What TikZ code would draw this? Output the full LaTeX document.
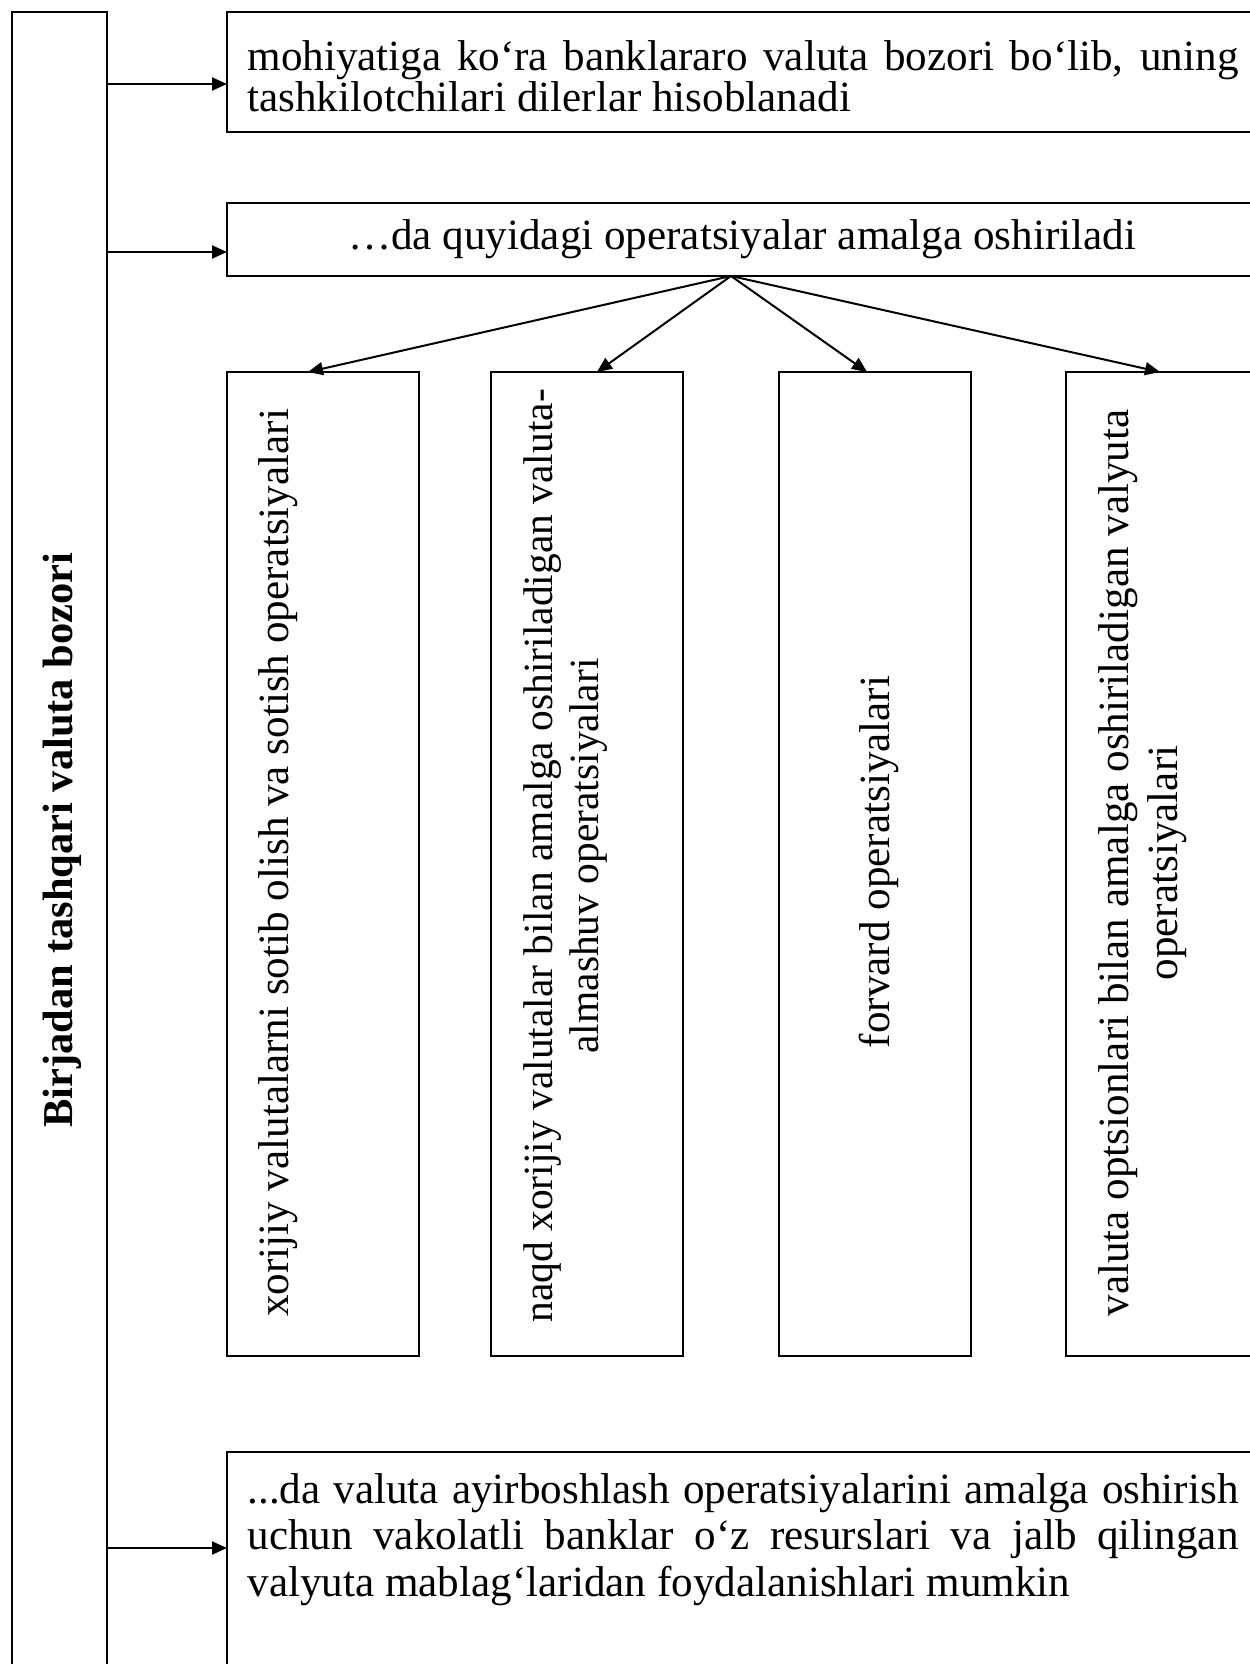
\documentclass[tikz,border=0pt]{standalone}
\usepackage{fontspec}
\setmainfont{Liberation Serif}
\usetikzlibrary{arrows.meta}
\newcommand\normsp{\spaceskip=0pt\xspaceskip=0pt\relax}
\begin{document}
\begin{tikzpicture}[x=0.4pt,y=-0.4pt,
  box/.style={draw, line width=0.8pt, inner sep=0pt, outer sep=0pt, rectangle, anchor=north west},
  arr/.style={line width=0.8pt, -{Triangle[length=6pt,width=5.2pt]}},
  txt/.style={inner sep=0pt, font=\fontsize{17.25pt}{16.4pt}\selectfont}]
\useasboundingbox (0,0) rectangle (1250,1664);
\clip (0,0) rectangle (1250,1664);
% boxes
\node[box, minimum width=38pt, minimum height=667.2pt] (L) at (12,12) {};
\node[box, minimum width=412.4pt, minimum height=48pt] (top) at (227,12) {};
\node[box, minimum width=412.4pt, minimum height=29.2pt] (mid) at (227,203) {};
\node[box, minimum width=76.8pt, minimum height=393.6pt] (v1) at (227,372) {};
\node[box, minimum width=76.8pt, minimum height=393.6pt] (v2) at (491,372) {};
\node[box, minimum width=76.8pt, minimum height=393.6pt] (v3) at (779,372) {};
\node[box, minimum width=76.8pt, minimum height=393.6pt] (v4) at (1066,372) {};
\node[box, minimum width=412.4pt, minimum height=120pt] (bot) at (227,1452) {};
% texts
\node[txt, rotate=90, anchor=base, font=\fontsize{17pt}{18pt}\selectfont\bfseries] (tl) at (72,840) {Birjadan tashqari valuta bozori};
\node[txt, anchor=base west, text width=396.4pt, align=left] (ttop) at (247,71)
  {\normsp\makebox[396.4pt][s]{mohiyatiga ko‘ra banklararo valuta bozori bo‘lib, uning}\\tashkilotchilari dilerlar hisoblanadi};
\node[txt] (tmid) at (742,239.5) {…da quyidagi operatsiyalar amalga oshiriladi};
\node[txt, rotate=90, anchor=base] (t1) at (288,863) {xorijiy valutalarni sotib olish va sotish operatsiyalari};
\node[txt, rotate=90, anchor=base, align=center, font=\fontsize{16.6pt}{18.6pt}\selectfont] (t2) at (598.5,856)
  {\normsp naqd xorijiy valutalar bilan amalga oshiriladigan valuta-\\\normsp almashuv operatsiyalari};
\node[txt, rotate=90] (t3) at (879,862) {forvard operatsiyalari};
\node[txt, rotate=90, anchor=base, align=center, font=\fontsize{17.25pt}{19.6pt}\selectfont] (t4) at (1177,863)
  {\normsp valuta optsionlari bilan amalga oshiriladigan valyuta\\\normsp operatsiyalari};
\node[txt, anchor=base west, text width=396.4pt, align=left, font=\fontsize{17.25pt}{18.6pt}\selectfont] (tbot) at (247,1503)
  {\normsp\makebox[396.4pt][s]{...da valuta ayirboshlash operatsiyalarini amalga oshirish}\\\makebox[396.4pt][s]{uchun vakolatli banklar o‘z resurslari va jalb qilingan}\\valyuta mablag‘laridan foydalanishlari mumkin};
% connectors
\coordinate (a1) at ([yshift=-4.8pt]top.west);
\coordinate (a2) at ([yshift=-5pt]mid.west);
\coordinate (a3) at ([yshift=-38.4pt]bot.north west);
\draw[arr] (L.east |- a1) -- (a1);
\draw[arr] (L.east |- a2) -- (a2);
\draw[arr] (L.east |- a3) -- (a3);
\coordinate (f) at ([xshift=-4.6pt]mid.south);
\draw[arr] (f) -- ([xshift=-6pt]v1.north);
\draw[arr] (f) -- ([xshift=4pt]v2.north);
\draw[arr] (f) -- ([xshift=-3.2pt]v3.north);
\draw[arr] (f) -- ([xshift=-0.8pt]v4.north);
\end{tikzpicture}
\end{document}
